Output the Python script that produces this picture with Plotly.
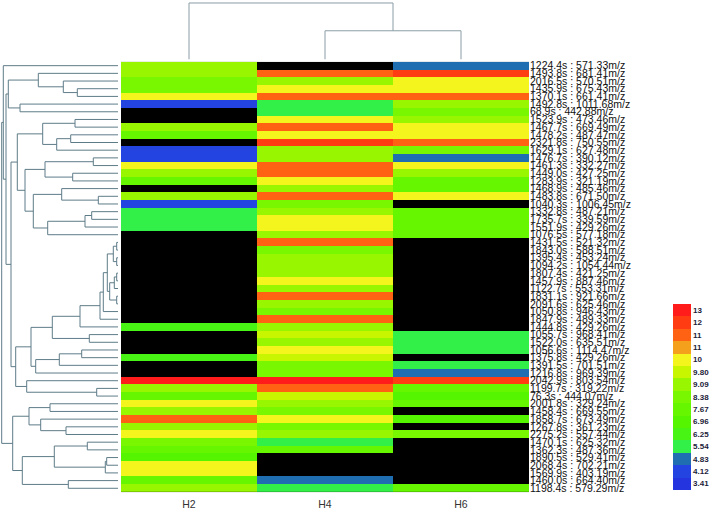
import plotly.graph_objects as go

samples = ["H2", "H4", "H6"]

features = [
    "1224.4s : 571.33m/z", "1493.8s : 681.41m/z", "2016.5s : 570.51m/z", "1435.9s : 675.43m/z",
    "1370.1s : 661.41m/z", "1492.8s : 1011.68m/z", "68.9s : 442.88m/z", "1523.9s : 473.46m/z",
    "1467.7s : 669.49m/z", "1478.2s : 487.47m/z", "2321.8s : 750.55m/z", "1629.1s : 627.48m/z",
    "1476.7s : 390.12m/z", "1461.3s : 332.27m/z", "1449.0s : 427.25m/z", "1283.9s : 321.19m/z",
    "1468.9s : 485.46m/z", "1483.8s : 671.50m/z", "1040.3s : 1006.45m/z", "1332.8s : 487.21m/z",
    "1735.7s : 339.59m/z", "1551.9s : 429.26m/z", "1076.5s : 577.18m/z", "1431.5s : 521.32m/z",
    "1843.0s : 588.51m/z", "1395.4s : 453.24m/z", "1094.2s : 1054.44m/z", "1807.4s : 421.25m/z",
    "1457.9s : 887.46m/z", "1122.7s : 553.31m/z", "1831.1s : 921.66m/z", "2091.6s : 625.46m/z",
    "1050.8s : 946.43m/z", "1847.9s : 489.33m/z", "1444.8s : 429.26m/z", "1055.7s : 968.41m/z",
    "1522.0s : 635.51m/z", "1056.6s : 1114.47m/z", "1375.8s : 429.26m/z", "1391.5s : 701.51m/z",
    "1216.8s : 969.39m/z", "2042.9s : 803.54m/z", "1199.7s : 319.22m/z", "76.3s : 444.07m/z",
    "2001.8s : 329.24m/z", "1458.4s : 669.55m/z", "1858.7s : 673.49m/z", "1267.8s : 361.23m/z",
    "2275.2s : 557.44m/z", "1470.1s : 625.32m/z", "1362.3s : 487.36m/z", "1890.5s : 529.41m/z",
    "2068.4s : 702.21m/z", "1569.9s : 403.19m/z", "1460.0s : 664.40m/z", "1198.4s : 579.29m/z",
]

N = None
h2 = [9.09, 9.09, 8.38, 8.38, 10.51, 4.12, N, N, 9.09, 7.67,
      N, 4.12, 4.12, 10.51, 9.09, 7.67, N, 9.09, 4.12, 5.54,
      5.54, 5.54, N, N, N, N, N, N, N, N,
      N, N, N, N, 6.25, N, N, N, 6.25, N,
      N, 13.35, 9.09, 7.67, 10.51, 9.09, 11.93, 9.09, 10.51, 8.38,
      7.67, 6.96, 10.51, 10.51, 7.67, 9.09]
h4 = [N, 11.93, 9.09, 10.51, 11.93, 5.54, 5.54, 10.51, 11.93, 10.51,
      12.64, 9.09, 9.09, 11.93, 11.93, 10.51, 9.09, 11.93, 8.38, 9.09,
      10.51, 10.51, 9.09, 11.93, 8.38, 9.09, 9.09, 9.09, 10.51, 9.09,
      11.93, 9.09, 8.38, 11.93, 9.09, 9.80, 9.09, 10.51, 9.80, 8.38,
      8.38, 13.35, 11.93, 9.80, 9.09, 8.38, 10.51, 8.38, 9.09, 5.54,
      7.67, N, N, N, 4.83, 5.54]
h6 = [4.83, 12.64, 10.51, 10.51, 11.93, 9.09, 8.38, 9.09, 10.51, 10.51,
      11.93, 8.38, 4.83, 10.51, 9.09, 7.67, 7.67, 10.51, N, 7.67,
      7.67, 7.67, 7.67, N, N, N, N, N, N, N,
      N, N, N, N, N, 5.54, 5.54, 5.54, N, 5.54,
      4.83, 12.64, 7.67, 6.96, 7.67, N, 6.96, N, 8.38, N,
      N, N, N, N, N, 7.67]

levels = [3.41, 4.12, 4.83, 5.54, 6.25, 6.96, 7.67, 8.38, 9.09, 9.80, 10.51, 11.22, 11.93, 12.64, 13.35]
level_labels = ["3.41", "4.12", "4.83", "5.54", "6.25", "6.96", "7.67", "8.38", "9.09", "9.80",
                "10", "11", "11", "12", "13"]
level_colors = ["#2435e0", "#2444e2", "#1f6eb2", "#33f048", "#48f414", "#55f500", "#66f700",
                "#78f700", "#98f700", "#c8f500", "#f5f51e", "#f5a01c", "#ff6212", "#ff3c12", "#ff1c1a"]

# row dendrogram nodes: (left, right, merge distance); ints are row indices
n_a = (1, (2, (3, 4, 40.7), 54.7), 79.7)
n_a6 = (n_a, (5, 6, 98.0), 109.7)
n_b = ((7, 8, 43.0), ((9, 10, 47.3), 11, 61.3), 75.3)
n_c1 = ((12, 13, 24.7), (14, 15, 45.3), 73.0)
n_c2 = ((16, (17, 18, 19.7), 56.3), (((19, 20, 26.3), 21, 33.0), 22, 70.3), 84.7)
n_t = (n_b, (n_c1, n_c2, 93.0), 100.7)
n_t1 = (((23, 24, 1.3), (25, 26, 1.3), 4.7), (((27, 28, 1.3), 29, 3.7), (30, 31, 1.3), 8.3), 10.7)
n_t2 = (((n_t1, 32, 14.7), 33, 18.0), 34, 38.0)
n_d = (n_t2, (35, 36, 28.7), 65.7)
n_e = (((37, 38, 36.3), 39, 58.7), 40, 82.3)
n_v = ((n_d, n_e, 87.0), (41, (42, 43, 21.3), 91.3), 102.3)
n_q = (n_t, n_v, 107.0)
n_s = (n_a6, n_q, 112.0)
n_p = (0, n_s, 114.7)
n_g = ((44, 45, 68.0), (46, (47, 48, 52.0), 77.3), 89.0)
n_h = (((49, 50, 30.7), ((51, 52, 11.3), 53, 12.7), 63.7), (54, 55, 49.7), 95.7)
row_tree = (n_p, (n_g, n_h, 105.3), 116.3)

col_tree = (0, (1, 2, 29.0), 57.0)


def walk(node, segs):
    if isinstance(node, int):
        return float(node), 0.0
    a, b, h = node
    pa, da = walk(a, segs)
    pb, db = walk(b, segs)
    segs.append(((da, pa), (h, pa), (h, pb), (db, pb)))
    return (pa + pb) / 2.0, h


row_segs = []
walk(row_tree, row_segs)
col_segs = []
walk(col_tree, col_segs)

rx, ry = [], []
for s in row_segs:
    for d, p in s:
        rx.append(d)
        ry.append(p)
    rx.append(None)
    ry.append(None)

cx, cy = [], []
for s in col_segs:
    for d, p in s:
        cx.append(p)
        cy.append(d)
    cx.append(None)
    cy.append(None)

z = [[h2[i], h4[i], h6[i]] for i in range(len(features))]

nb = len(level_colors)
cs = []
for i, c in enumerate(level_colors):
    cs.append([i / nb, c])
    cs.append([(i + 1) / nb, c])

half = (levels[1] - levels[0]) / 2.0

W, H = 709, 510
hm_x0, hm_x1 = 121, 529
hm_y0, hm_y1 = 60.3, 494

font_family = "Liberation Sans, Arial, sans-serif"

fig = go.Figure()

fig.add_trace(go.Heatmap(
    z=z, x=list(range(len(samples))), y=list(range(len(features))),
    zmin=levels[0] - half, zmax=levels[-1] + half, colorscale=cs,
    xaxis="x", yaxis="y", hoverongaps=False,
    colorbar=dict(
        x=673 / W, xanchor="left", y=(H - 398) / H, yanchor="middle",
        len=186, lenmode="pixels", thickness=18, thicknessmode="pixels",
        xpad=0, ypad=0, outlinewidth=0, tickvals=levels, ticktext=level_labels,
        ticks="",
        tickfont=dict(family=font_family, size=8, color="#1c1c3a", weight="bold"),
    ),
))

fig.add_trace(go.Scatter(x=rx, y=ry, mode="lines", xaxis="x2", yaxis="y",
                         line=dict(color="#5e7c88", width=1), hoverinfo="skip",
                         showlegend=False))
fig.add_trace(go.Scatter(x=cx, y=cy, mode="lines", xaxis="x", yaxis="y3",
                         line=dict(color="#8a9ea6", width=1), hoverinfo="skip",
                         showlegend=False))

fig.update_layout(
    width=W, height=H, autosize=False,
    margin=dict(l=0, r=0, t=0, b=0),
    paper_bgcolor="white", plot_bgcolor="white",
    showlegend=False,
    xaxis=dict(domain=[hm_x0 / W, hm_x1 / W], range=[-0.5, len(samples) - 0.5],
               tickvals=list(range(len(samples))), ticktext=samples, ticks="",
               ticklabelstandoff=4,
               showgrid=False, zeroline=False, showline=False,
               tickfont=dict(family=font_family, size=10.5, color="#333333")),
    yaxis=dict(domain=[(H - hm_y1) / H, (H - hm_y0) / H], range=[len(features) - 0.5, -0.5],
               side="right", tickvals=list(range(len(features))), ticktext=features,
               ticks="", showgrid=False, zeroline=False, showline=False,
               tickfont=dict(family=font_family, size=10.5, color="#111111")),
    xaxis2=dict(domain=[0, 118 / W], range=[118, 0], visible=False, anchor="y"),
    yaxis3=dict(domain=[(H - 58) / H, 1], range=[0, 58], visible=False, anchor="x"),
    shapes=[dict(type="rect", xref="x", yref="y", x0=-0.5, x1=len(samples) - 0.5,
                 y0=-0.5, y1=len(features) - 0.5, fillcolor="black",
                 line=dict(width=0), layer="below")],
)

fig.write_html("out.html")
